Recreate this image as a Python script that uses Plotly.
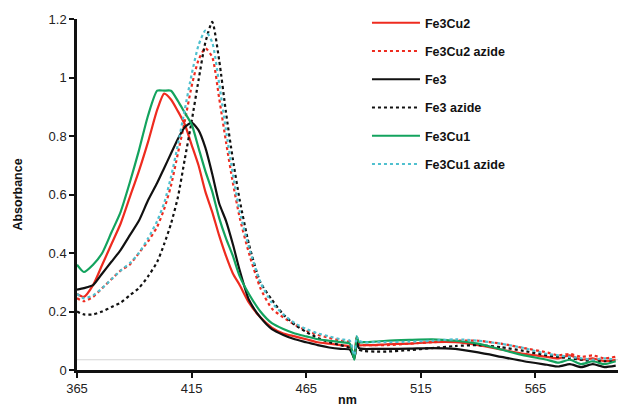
import plotly.graph_objects as go

# Wavelength grid (nm)
wavelength = [365, 368, 372, 376, 380, 384, 388, 392, 396, 400, 403, 406, 409, 412,
              415, 418, 421, 424, 427, 430, 433, 436, 440, 445, 450, 455, 460, 465,
              470, 475, 480, 484, 486, 487, 488, 490, 495, 500, 510, 520, 530, 540,
              550, 560, 570, 575, 580, 585, 590, 595, 600]

fe3cu2 = [0.26, 0.25, 0.29, 0.36, 0.43, 0.50, 0.59, 0.68, 0.78, 0.89, 0.945, 0.925, 0.885, 0.84,
          0.77, 0.70, 0.61, 0.54, 0.46, 0.39, 0.33, 0.29, 0.23, 0.18, 0.145, 0.125, 0.115, 0.105,
          0.095, 0.09, 0.085, 0.08, 0.04, 0.11, 0.085, 0.085, 0.085, 0.088, 0.09, 0.095, 0.095, 0.085,
          0.07, 0.055, 0.045, 0.04, 0.05, 0.035, 0.04, 0.03, 0.035]

fe3cu2_azide = [0.245, 0.235, 0.25, 0.28, 0.31, 0.34, 0.36, 0.40, 0.44, 0.49, 0.55, 0.63, 0.74, 0.85,
                0.97, 1.06, 1.10, 1.07, 0.93, 0.78, 0.64, 0.52, 0.40, 0.28, 0.21, 0.18, 0.155, 0.135,
                0.12, 0.11, 0.10, 0.095, 0.045, 0.11, 0.09, 0.085, 0.085, 0.085, 0.09, 0.095, 0.10, 0.10,
                0.09, 0.075, 0.06, 0.05, 0.055, 0.045, 0.05, 0.04, 0.045]

fe3 = [0.275, 0.28, 0.29, 0.33, 0.37, 0.41, 0.46, 0.51, 0.58, 0.64, 0.69, 0.74, 0.79, 0.83,
       0.846, 0.82, 0.76, 0.67, 0.57, 0.51, 0.43, 0.34, 0.24, 0.18, 0.14, 0.12, 0.105, 0.095,
       0.085, 0.077, 0.072, 0.07, 0.04, 0.10, 0.075, 0.072, 0.072, 0.072, 0.073, 0.075, 0.072, 0.06,
       0.045, 0.03, 0.018, 0.012, 0.02, 0.01, 0.02, 0.01, 0.015]

fe3_azide = [0.20, 0.19, 0.19, 0.20, 0.215, 0.23, 0.255, 0.28, 0.32, 0.37, 0.43, 0.50, 0.59, 0.72,
             0.85, 0.99, 1.12, 1.19, 1.06, 0.88, 0.72, 0.58, 0.43, 0.30, 0.24, 0.19, 0.155, 0.13,
             0.11, 0.095, 0.085, 0.075, 0.04, 0.10, 0.07, 0.065, 0.063, 0.063, 0.068, 0.075, 0.082, 0.085,
             0.078, 0.065, 0.05, 0.045, 0.04, 0.035, 0.03, 0.03, 0.03]

fe3cu1 = [0.36, 0.335, 0.36, 0.40, 0.47, 0.54, 0.64, 0.75, 0.87, 0.955, 0.955, 0.955, 0.92, 0.88,
          0.84, 0.76, 0.68, 0.61, 0.52, 0.45, 0.39, 0.32, 0.26, 0.20, 0.16, 0.14, 0.125, 0.115,
          0.105, 0.10, 0.095, 0.09, 0.035, 0.115, 0.095, 0.095, 0.097, 0.10, 0.103, 0.105, 0.10, 0.09,
          0.07, 0.05, 0.035, 0.025, 0.035, 0.02, 0.03, 0.02, 0.03]

fe3cu1_azide = [0.26, 0.245, 0.255, 0.28, 0.31, 0.34, 0.365, 0.40, 0.45, 0.51, 0.57, 0.66, 0.77, 0.89,
                1.01, 1.11, 1.16, 1.12, 0.98, 0.82, 0.67, 0.54, 0.42, 0.30, 0.23, 0.19, 0.16, 0.14,
                0.125, 0.115, 0.105, 0.10, 0.05, 0.115, 0.10, 0.095, 0.095, 0.095, 0.097, 0.10, 0.105, 0.10,
                0.09, 0.075, 0.055, 0.05, 0.045, 0.04, 0.035, 0.04, 0.035]

series = [
    ("Fe3Cu2", fe3cu2, "#ee2b1f", "solid"),
    ("Fe3Cu2 azide", fe3cu2_azide, "#ee2b1f", "dot"),
    ("Fe3", fe3, "#111111", "solid"),
    ("Fe3 azide", fe3_azide, "#111111", "dot"),
    ("Fe3Cu1", fe3cu1, "#13a35e", "solid"),
    ("Fe3Cu1 azide", fe3cu1_azide, "#4fc0cf", "dot"),
]

fig = go.Figure()
for i, (name, vals, color, dash) in enumerate(series):
    fig.add_trace(go.Scatter(
        x=wavelength, y=vals, name=name, mode="lines",
        line=dict(color=color, width=2.2, dash=dash, shape="spline", smoothing=0.6),
        legendgroup=f"g{i}",
    ))

# faint baseline near zero
fig.add_hline(y=0.035, line=dict(color="#d4d4d4", width=1), layer="below")

fig.update_layout(
    width=618, height=410,
    margin=dict(l=77, r=0, t=19, b=40),
    paper_bgcolor="white", plot_bgcolor="white",
    font=dict(family="Liberation Sans, Arial, sans-serif", color="#222222", size=13),
    showlegend=True,
    legend=dict(
        x=0.536, y=1.031, xanchor="left", yanchor="top",
        bgcolor="rgba(0,0,0,0)", tracegroupgap=9, itemwidth=48,
        font=dict(family="Liberation Sans, Arial, sans-serif", size=12.5, color="#111111",
                  weight="bold"),
    ),
    xaxis=dict(
        range=[365, 601], tickvals=[365, 415, 465, 515, 565],
        showline=True, linecolor="#111111", linewidth=2.5,
        ticks="outside", ticklen=5, tickwidth=2, tickcolor="#111111",
        showgrid=False, zeroline=False,
    ),
    yaxis=dict(
        range=[0, 1.2], tickvals=[0, 0.2, 0.4, 0.6, 0.8, 1, 1.2],
        ticktext=["0", "0.2", "0.4", "0.6", "0.8", "1", "1.2"],
        showline=True, linecolor="#111111", linewidth=2.5,
        ticks="outside", ticklen=5, tickwidth=2, tickcolor="#111111",
        showgrid=False, zeroline=False,
        title=dict(text="<b>Absorbance</b>", standoff=24,
                   font=dict(size=12.5, color="#111111")),
    ),
    annotations=[dict(
        text="<b>nm</b>", xref="paper", yref="paper", x=0.5, y=-0.112,
        xanchor="center", yanchor="bottom", showarrow=False,
        font=dict(size=12.5, color="#111111"),
    )],
)

fig.write_html("out.html")
